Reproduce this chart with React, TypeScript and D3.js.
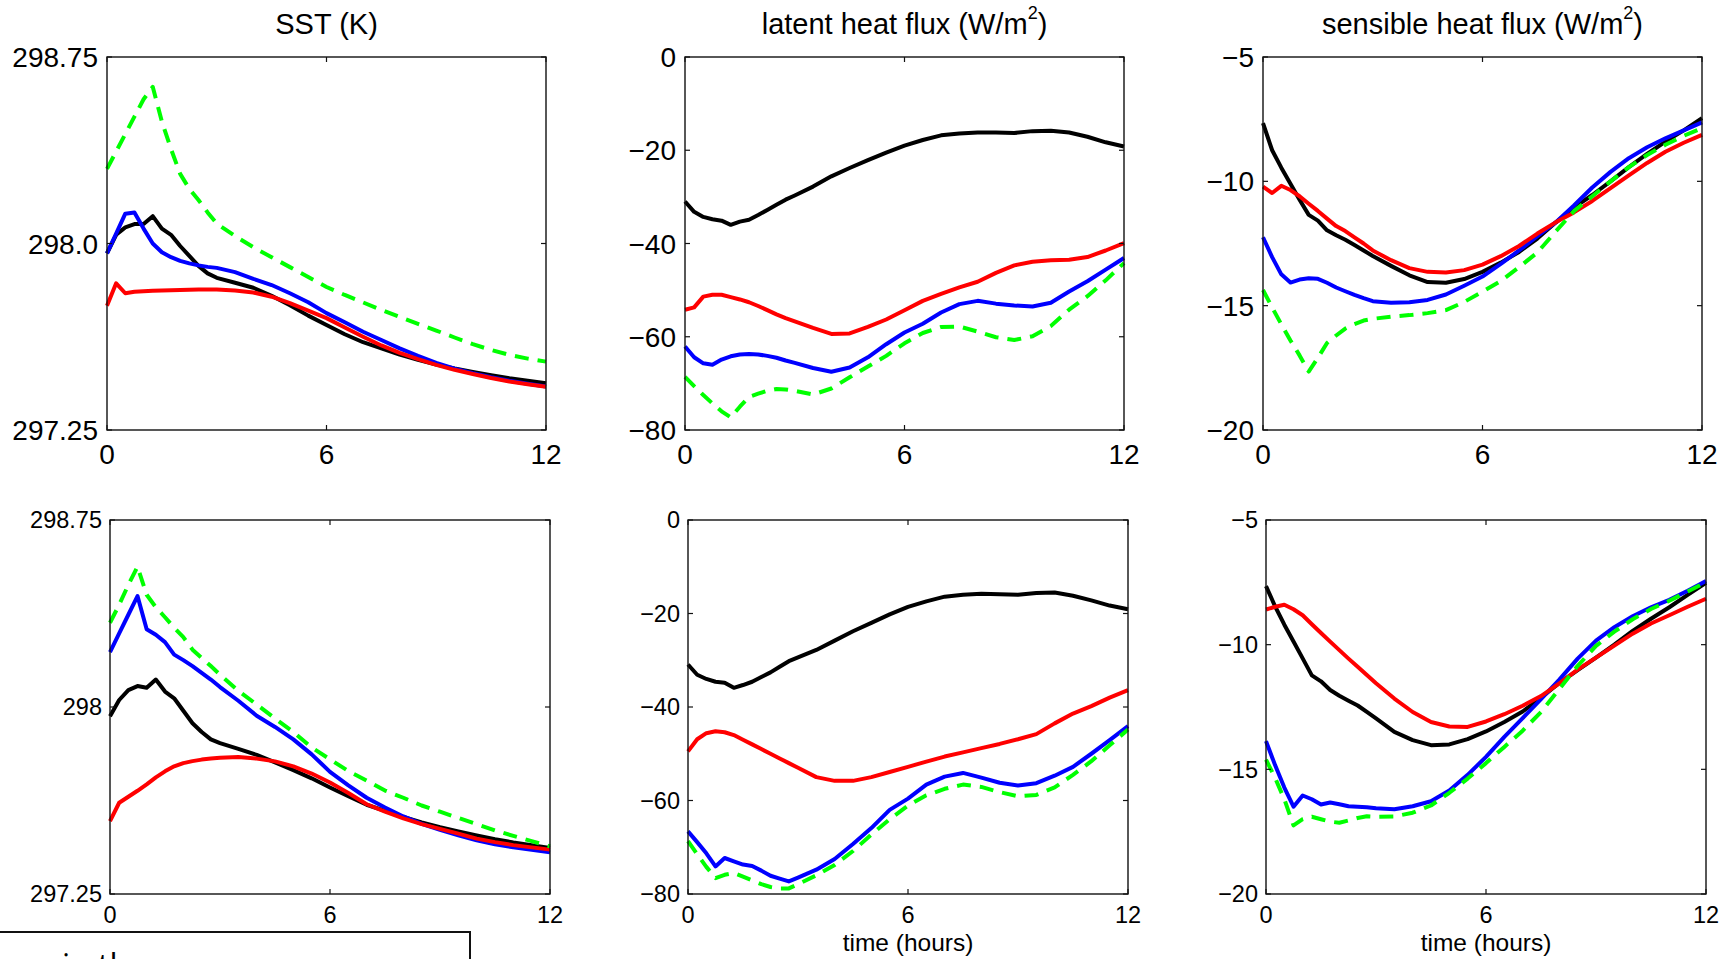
import React from 'react';
import * as d3 from 'd3';

// ---------- data ----------
const TIME = [0, 0.25, 0.5, 0.75, 1, 1.25, 1.5, 1.75, 2, 2.25, 2.5, 2.75, 3, 3.5, 4, 4.5, 5, 5.5, 6, 6.5, 7, 7.5, 8, 8.5, 9, 9.5, 10, 10.5, 11, 11.5, 12];

const X_TICKS = [0, 6, 12];
const X_TICK_LABELS = ['0', '6', '12'];

const SST_TICKS = [297.25, 298.0, 298.75];
const SST_TICK_LABELS_TOP = ['297.25', '298.0', '298.75'];
const SST_TICK_LABELS_BOTTOM = ['297.25', '298', '298.75'];
const LATENT_TICKS = [-80, -60, -40, -20, 0];
const LATENT_TICK_LABELS = ['\u221280', '\u221260', '\u221240', '\u221220', '0'];
const SENSIBLE_TICKS = [-20, -15, -10, -5];
const SENSIBLE_TICK_LABELS = ['\u221220', '\u221215', '\u221210', '\u22125'];

// SST, top row
const SST_A_BLACK = [297.96, 298.035, 298.065, 298.078, 298.078, 298.11, 298.06, 298.035, 297.99, 297.95, 297.91, 297.88, 297.862, 297.842, 297.822, 297.79, 297.752, 297.71, 297.672, 297.635, 297.603, 297.578, 297.553, 297.532, 297.513, 297.497, 297.483, 297.47, 297.458, 297.448, 297.438];
const SST_A_RED = [297.75, 297.84, 297.80, 297.806, 297.808, 297.81, 297.811, 297.812, 297.813, 297.814, 297.815, 297.815, 297.815, 297.811, 297.803, 297.786, 297.76, 297.73, 297.70, 297.662, 297.625, 297.59, 297.56, 297.535, 297.512, 297.492, 297.475, 297.459, 297.445, 297.434, 297.424];
const SST_A_BLUE = [297.96, 298.04, 298.12, 298.125, 298.06, 298.0, 297.965, 297.945, 297.93, 297.92, 297.912, 297.906, 297.902, 297.885, 297.858, 297.833, 297.80, 297.764, 297.72, 297.683, 297.645, 297.612, 297.578, 297.548, 297.52, 297.497, 297.478, 297.462, 297.448, 297.436, 297.425];
const SST_A_GREEN = [298.30, 298.37, 298.44, 298.51, 298.58, 298.63, 298.49, 298.38, 298.28, 298.22, 298.175, 298.125, 298.08, 298.03, 297.985, 297.945, 297.905, 297.865, 297.825, 297.793, 297.763, 297.733, 297.705, 297.677, 297.65, 297.622, 297.595, 297.572, 297.552, 297.537, 297.525];

// SST, bottom row
const SST_B_BLACK = [297.963, 298.028, 298.068, 298.084, 298.077, 298.11, 298.062, 298.035, 297.985, 297.935, 297.9, 297.87, 297.855, 297.832, 297.808, 297.778, 297.747, 297.714, 297.677, 297.642, 297.608, 297.583, 297.559, 297.537, 297.518, 297.501, 297.485, 297.47, 297.457, 297.446, 297.435];
const SST_B_RED = [297.542, 297.616, 297.64, 297.664, 297.69, 297.718, 297.742, 297.762, 297.775, 297.783, 297.789, 297.793, 297.796, 297.799, 297.793, 297.782, 297.762, 297.733, 297.697, 297.655, 297.61, 297.58, 297.553, 297.53, 297.511, 297.492, 297.472, 297.458, 297.446, 297.437, 297.428];
const SST_B_BLUE = [298.22, 298.295, 298.37, 298.445, 298.312, 298.29, 298.26, 298.21, 298.188, 298.164, 298.137, 298.11, 298.08, 298.025, 297.965, 297.92, 297.87, 297.81, 297.74, 297.686, 297.636, 297.597, 297.561, 297.531, 297.507, 297.485, 297.465, 297.449, 297.437, 297.427, 297.417];
const SST_B_GREEN = [298.338, 298.41, 298.49, 298.563, 298.45, 298.40, 298.36, 298.318, 298.28, 298.23, 298.197, 298.164, 298.13, 298.065, 298.01, 297.954, 297.90, 297.838, 297.79, 297.743, 297.705, 297.665, 297.636, 297.605, 297.58, 297.555, 297.53, 297.505, 297.483, 297.462, 297.441];

// latent heat flux, top row
const LH_A_BLACK = [-31.0, -33.2, -34.3, -34.8, -35.1, -36.0, -35.3, -34.9, -33.9, -32.8, -31.7, -30.6, -29.7, -27.8, -25.6, -23.8, -22.1, -20.5, -19.0, -17.8, -16.8, -16.4, -16.2, -16.2, -16.3, -15.9, -15.8, -16.2, -17.1, -18.3, -19.2];
const LH_A_RED = [-54.2, -53.7, -51.4, -51.0, -51.0, -51.5, -52.0, -52.6, -53.4, -54.3, -55.2, -56.0, -56.7, -58.1, -59.4, -59.3, -57.9, -56.3, -54.3, -52.3, -50.8, -49.4, -48.2, -46.3, -44.7, -43.9, -43.6, -43.5, -42.9, -41.5, -39.9];
const LH_A_BLUE = [-62.1, -64.4, -65.7, -66.0, -64.9, -64.2, -63.8, -63.7, -63.8, -64.1, -64.5, -65.1, -65.6, -66.7, -67.5, -66.6, -64.4, -61.6, -59.1, -57.2, -54.8, -53.0, -52.3, -52.9, -53.3, -53.5, -52.7, -50.3, -48.1, -45.6, -43.1];
const LH_A_GREEN = [-68.6, -70.6, -72.5, -74.3, -76.0, -77.3, -75.0, -72.9, -72.2, -71.6, -71.2, -71.3, -71.6, -72.4, -71.1, -68.7, -66.4, -64.1, -61.4, -59.2, -57.9, -57.8, -58.9, -60.1, -60.7, -59.9, -57.7, -54.2, -51.3, -47.9, -44.2];

// latent heat flux, bottom row
const LH_B_BLACK = [-30.9, -33.1, -34.0, -34.6, -34.8, -35.9, -35.3, -34.6, -33.6, -32.6, -31.4, -30.2, -29.4, -27.8, -25.8, -23.8, -22.0, -20.2, -18.6, -17.4, -16.4, -16.0, -15.8, -15.9, -16.0, -15.6, -15.5, -16.2, -17.2, -18.3, -19.1];
const LH_B_RED = [-49.5, -46.9, -45.6, -45.2, -45.4, -46.0, -47.0, -48.0, -49.0, -50.0, -51.0, -52.0, -53.0, -55.0, -55.8, -55.8, -55.0, -53.9, -52.8, -51.7, -50.6, -49.7, -48.8, -47.9, -46.9, -45.8, -43.5, -41.4, -39.8, -38.0, -36.4];
const LH_B_BLUE = [-66.6, -68.9, -71.3, -74.1, -72.3, -73.0, -73.7, -74.0, -75.0, -76.1, -76.7, -77.3, -76.5, -74.8, -72.5, -69.3, -65.9, -62.0, -59.6, -56.6, -54.9, -54.1, -55.1, -56.2, -56.8, -56.3, -54.7, -52.8, -50.0, -47.1, -44.1];
const LH_B_GREEN = [-68.7, -71.5, -74.2, -76.6, -75.9, -75.5, -76.3, -77.1, -77.9, -78.5, -78.8, -78.8, -77.9, -76.0, -73.8, -70.8, -67.3, -64.0, -61.1, -58.9, -57.5, -56.6, -57.1, -58.2, -59.1, -58.8, -57.2, -54.5, -51.6, -48.2, -44.8];

// sensible heat flux, top row
const SH_A_BLACK = [-7.66, -8.75, -9.45, -10.1, -10.74, -11.35, -11.58, -11.97, -12.17, -12.35, -12.56, -12.78, -13.0, -13.4, -13.78, -14.05, -14.08, -13.93, -13.64, -13.27, -12.84, -12.3, -11.66, -11.06, -10.55, -10.0, -9.43, -8.9, -8.4, -7.95, -7.46];
const SH_A_RED = [-10.21, -10.47, -10.18, -10.35, -10.6, -10.9, -11.19, -11.5, -11.8, -12.0, -12.25, -12.5, -12.78, -13.17, -13.49, -13.64, -13.67, -13.57, -13.35, -13.01, -12.6, -12.1, -11.65, -11.25, -10.79, -10.27, -9.76, -9.26, -8.81, -8.45, -8.13];
const SH_A_BLUE = [-12.25, -13.05, -13.74, -14.07, -13.95, -13.9, -13.92, -14.08, -14.27, -14.42, -14.57, -14.7, -14.82, -14.88, -14.86, -14.77, -14.55, -14.2, -13.83, -13.32, -12.78, -12.21, -11.65, -10.97, -10.25, -9.62, -9.07, -8.63, -8.27, -7.95, -7.63];
const SH_A_GREEN = [-14.37, -15.07, -15.75, -16.4, -17.0, -17.65, -17.1, -16.5, -16.2, -15.92, -15.74, -15.6, -15.53, -15.44, -15.38, -15.3, -15.18, -14.85, -14.44, -14.01, -13.45, -12.86, -12.02, -11.2, -10.6, -10.0, -9.43, -8.94, -8.53, -8.17, -7.86];

// sensible heat flux, bottom row
const SH_B_BLACK = [-7.65, -8.47, -9.2, -9.87, -10.55, -11.23, -11.47, -11.82, -12.05, -12.25, -12.44, -12.7, -12.96, -13.5, -13.83, -14.03, -14.0, -13.79, -13.48, -13.1, -12.68, -12.13, -11.54, -11.02, -10.52, -10.0, -9.45, -8.96, -8.5, -8.0, -7.52];
const SH_B_RED = [-8.59, -8.48, -8.4, -8.58, -8.82, -9.18, -9.53, -9.88, -10.22, -10.56, -10.89, -11.22, -11.55, -12.16, -12.7, -13.1, -13.28, -13.3, -13.08, -12.79, -12.45, -12.06, -11.55, -11.0, -10.52, -10.04, -9.56, -9.15, -8.82, -8.48, -8.16];
const SH_B_BLUE = [-13.87, -14.84, -15.73, -16.5, -16.05, -16.2, -16.41, -16.33, -16.4, -16.48, -16.5, -16.52, -16.56, -16.6, -16.48, -16.28, -15.85, -15.22, -14.5, -13.7, -12.95, -12.18, -11.4, -10.56, -9.84, -9.3, -8.86, -8.5, -8.2, -7.84, -7.45];
const SH_B_GREEN = [-14.61, -15.35, -16.2, -17.25, -17.0, -16.9, -17.0, -17.1, -17.14, -17.05, -16.95, -16.88, -16.9, -16.89, -16.74, -16.45, -15.94, -15.37, -14.75, -14.1, -13.45, -12.7, -11.78, -10.85, -10.05, -9.48, -8.98, -8.57, -8.24, -7.87, -7.49];

// ---------- layout ----------
const FONT = '"Liberation Sans", Arial, Helvetica, sans-serif';

type Panel = {
  left: number; right: number; top: number; bottom: number;
  yTicks: number[]; yLabels: string[];
  black: number[]; red: number[]; blue: number[]; green: number[];
  tickFont: number; xLabelBase: number; yLabelGap: number;
  xLabel?: string;
};

const TOP = { top: 57, bottom: 430, tickFont: 28, xLabelBase: 464, yLabelGap: 9 };
const BOT = { top: 520, bottom: 894, tickFont: 23.5, xLabelBase: 923, yLabelGap: 8 };

const PANELS: Panel[] = [
  { ...TOP, left: 107, right: 546, yTicks: SST_TICKS, yLabels: SST_TICK_LABELS_TOP, black: SST_A_BLACK, red: SST_A_RED, blue: SST_A_BLUE, green: SST_A_GREEN },
  { ...TOP, left: 685, right: 1124, yTicks: LATENT_TICKS, yLabels: LATENT_TICK_LABELS, black: LH_A_BLACK, red: LH_A_RED, blue: LH_A_BLUE, green: LH_A_GREEN },
  { ...TOP, left: 1263, right: 1702, yTicks: SENSIBLE_TICKS, yLabels: SENSIBLE_TICK_LABELS, black: SH_A_BLACK, red: SH_A_RED, blue: SH_A_BLUE, green: SH_A_GREEN },
  { ...BOT, left: 110, right: 550, yTicks: SST_TICKS, yLabels: SST_TICK_LABELS_BOTTOM, black: SST_B_BLACK, red: SST_B_RED, blue: SST_B_BLUE, green: SST_B_GREEN },
  { ...BOT, left: 688, right: 1128, yTicks: LATENT_TICKS, yLabels: LATENT_TICK_LABELS, black: LH_B_BLACK, red: LH_B_RED, blue: LH_B_BLUE, green: LH_B_GREEN, xLabel: 'time (hours)' },
  { ...BOT, left: 1266, right: 1706, yTicks: SENSIBLE_TICKS, yLabels: SENSIBLE_TICK_LABELS, black: SH_B_BLACK, red: SH_B_RED, blue: SH_B_BLUE, green: SH_B_GREEN, xLabel: 'time (hours)' },
];

const TICK_LEN = 5;

function PanelView({ p }: { p: Panel }) {
  const x = d3.scaleLinear().domain([0, 12]).range([p.left, p.right]);
  const yDomain = d3.extent(p.yTicks) as [number, number];
  const y = d3.scaleLinear().domain(yDomain).range([p.bottom, p.top]);
  const line = d3.line<number>().x((_, i) => x(TIME[i])).y((v) => y(v)).curve(d3.curveLinear);
  const series: { data: number[]; color: string; dash?: string }[] = [
    { data: p.black, color: '#000000' },
    { data: p.blue, color: '#0000ff' },
    { data: p.red, color: '#ff0000' },
    { data: p.green, color: '#00ff00', dash: '14,9' },
  ];
  const clipId = `clip-${p.left}-${p.top}`;
  return (
    <g>
      <defs>
        <clipPath id={clipId}>
          <rect x={p.left - 2} y={p.top - 2} width={p.right - p.left + 4} height={p.bottom - p.top + 4} />
        </clipPath>
      </defs>
      <g clipPath={`url(#${clipId})`}>
        {series.map((s, i) => (
          <path key={i} d={line(s.data) || ''} fill="none" stroke={s.color} strokeWidth={4}
            strokeDasharray={s.dash} strokeLinejoin="round" strokeLinecap="butt" />
        ))}
      </g>
      <rect x={p.left} y={p.top} width={p.right - p.left} height={p.bottom - p.top} fill="none" stroke="#111" strokeWidth={1.4} />
      {X_TICKS.map((t, i) => (
        <g key={'xt' + i}>
          <line x1={x(t)} x2={x(t)} y1={p.bottom} y2={p.bottom - TICK_LEN} stroke="#111" strokeWidth={1.2} />
          <line x1={x(t)} x2={x(t)} y1={p.top} y2={p.top + TICK_LEN} stroke="#111" strokeWidth={1.2} />
          <text x={x(t)} y={p.xLabelBase} textAnchor="middle" fontSize={p.tickFont} fontFamily={FONT} fill="#000">{X_TICK_LABELS[i]}</text>
        </g>
      ))}
      {p.yTicks.map((t, i) => (
        <g key={'yt' + i}>
          <line x1={p.left} x2={p.left + TICK_LEN} y1={y(t)} y2={y(t)} stroke="#111" strokeWidth={1.2} />
          <line x1={p.right} x2={p.right - TICK_LEN} y1={y(t)} y2={y(t)} stroke="#111" strokeWidth={1.2} />
          <text x={p.left - p.yLabelGap} y={y(t) + p.tickFont * 0.36} textAnchor="end" fontSize={p.tickFont} fontFamily={FONT} fill="#000">{p.yLabels[i]}</text>
        </g>
      ))}
      {p.xLabel && (
        <text x={(p.left + p.right) / 2} y={951} textAnchor="middle" fontSize={24.5} fontFamily={FONT} fill="#000">{p.xLabel}</text>
      )}
    </g>
  );
}

const TITLE_SIZE = 29;

export default function App() {
  const c0 = (PANELS[0].left + PANELS[0].right) / 2;
  const c1 = (PANELS[1].left + PANELS[1].right) / 2;
  const c2 = (PANELS[2].left + PANELS[2].right) / 2;
  return (
    <svg width={1734} height={959} viewBox="0 0 1734 959"
      style={{ position: 'absolute', left: 0, top: 0, background: '#fff', display: 'block' }}>
      <rect x={0} y={0} width={1734} height={959} fill="#fff" />
      <text x={c0} y={34} textAnchor="middle" fontSize={TITLE_SIZE} fontFamily={FONT}>SST (K)</text>
      <text x={c1} y={34} textAnchor="middle" fontSize={TITLE_SIZE} fontFamily={FONT}>
        latent heat flux (W/m<tspan dy={-15} fontSize={18}>2</tspan><tspan dy={15}>)</tspan>
      </text>
      <text x={c2} y={34} textAnchor="middle" fontSize={TITLE_SIZE} fontFamily={FONT}>
        sensible heat flux (W/m<tspan dy={-15} fontSize={18}>2</tspan><tspan dy={15}>)</tspan>
      </text>
      {PANELS.map((p, i) => <PanelView key={i} p={p} />)}
      <rect x={-3} y={932} width={473} height={80} fill="#fff" stroke="#111" strokeWidth={2} />
      <text x={62} y={977} fontSize={32} fontFamily='"Open Sans", sans-serif' fill="#000">in the</text>
    </svg>
  );
}
